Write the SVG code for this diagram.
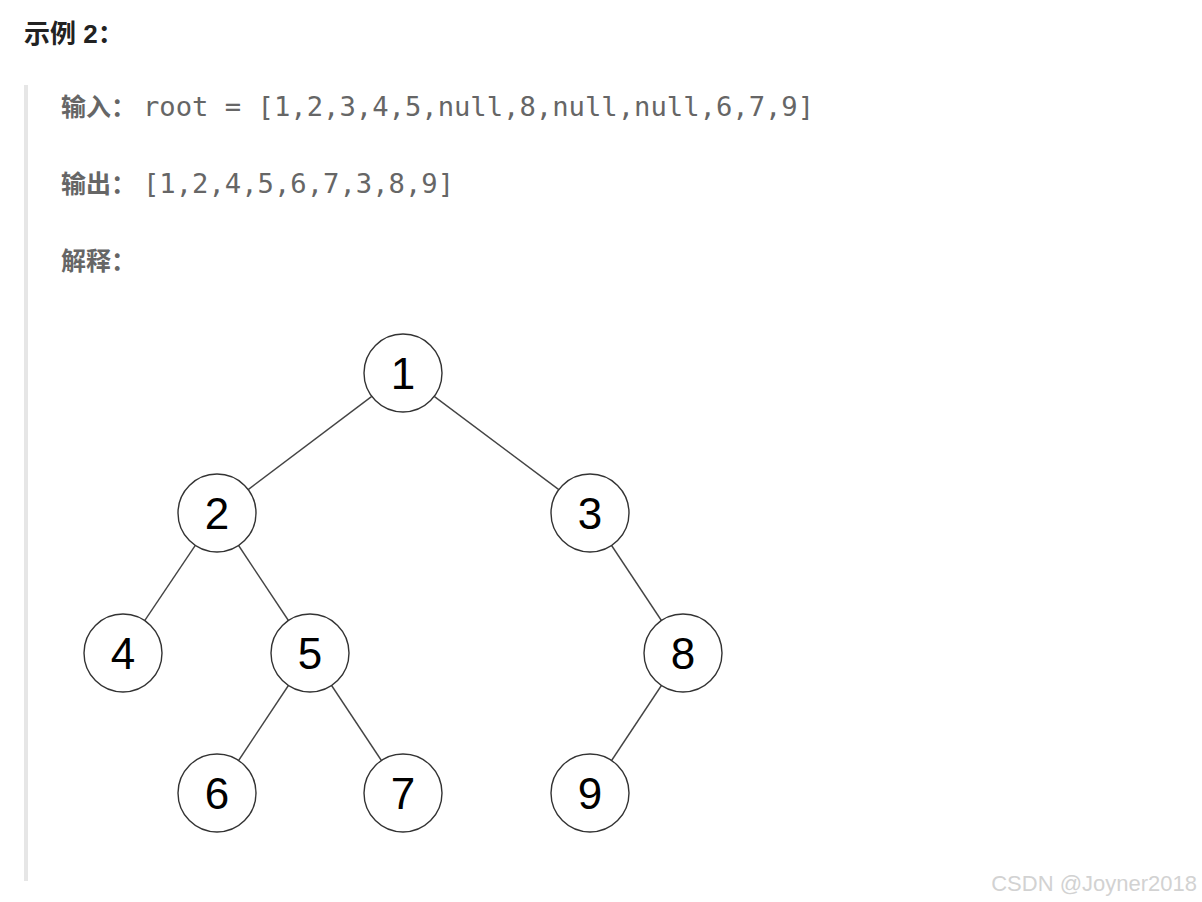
<svg xmlns="http://www.w3.org/2000/svg" width="1202" height="902" viewBox="0 0 1202 902">
<style>
.node circle{fill:#fff;stroke:#333;stroke-width:1.4}
.node text{font-family:"Liberation Sans",Arial,sans-serif;font-size:44px;fill:#000;text-anchor:middle}
.edges line{stroke:#444;stroke-width:1.4}
.lbl{font-family:"Noto Sans CJK SC",sans-serif;font-weight:bold;font-size:25px;fill:#666}
.mono{font-family:"DejaVu Sans Mono",monospace;font-size:27.2px;fill:#666}
</style>
<rect width="1202" height="902" fill="#fff"/>
<text x="24" y="43" font-family="'Liberation Sans','Noto Sans CJK SC',sans-serif" font-weight="bold" font-size="26" fill="#222">示例 2：</text>
<rect x="24" y="85" width="4" height="796" fill="#e6e6e6"/>
<text x="61" y="116" class="lbl">输入：</text>
<text x="143" y="116" class="mono">root = [1,2,3,4,5,null,8,null,null,6,7,9]</text>
<text x="61" y="193" class="lbl">输出：</text>
<text x="143" y="193" class="mono">[1,2,4,5,6,7,3,8,9]</text>
<text x="61" y="270" class="lbl">解释：</text>
<g id="connectors" class="edges">
<line x1="371.8" y1="396.4" x2="248.2" y2="489.6"/>
<line x1="434.2" y1="396.4" x2="558.8" y2="489.6"/>
<line x1="195.3" y1="545.4" x2="144.7" y2="620.6"/>
<line x1="238.6" y1="545.5" x2="288.4" y2="620.5"/>
<line x1="611.6" y1="545.5" x2="661.4" y2="620.5"/>
<line x1="288.4" y1="685.5" x2="238.6" y2="760.5"/>
<line x1="331.6" y1="685.5" x2="381.4" y2="760.5"/>
<line x1="661.4" y1="685.5" x2="611.6" y2="760.5"/>
</g>
<g id="n1" class="node"><circle cx="403" cy="373" r="39"/><text x="403" y="389">1</text></g>
<g id="n2" class="node"><circle cx="217" cy="513" r="39"/><text x="217" y="529">2</text></g>
<g id="n3" class="node"><circle cx="590" cy="513" r="39"/><text x="590" y="529">3</text></g>
<g id="n4" class="node"><circle cx="123" cy="653" r="39"/><text x="123" y="669">4</text></g>
<g id="n5" class="node"><circle cx="310" cy="653" r="39"/><text x="310" y="669">5</text></g>
<g id="n8" class="node"><circle cx="683" cy="653" r="39"/><text x="683" y="669">8</text></g>
<g id="n6" class="node"><circle cx="217" cy="793" r="39"/><text x="217" y="809">6</text></g>
<g id="n7" class="node"><circle cx="403" cy="793" r="39"/><text x="403" y="809">7</text></g>
<g id="n9" class="node"><circle cx="590" cy="793" r="39"/><text x="590" y="809">9</text></g>
<text x="1197" y="891" text-anchor="end" font-family="'Liberation Sans',Arial,sans-serif" font-size="22" fill="#d2d2d2">CSDN @Joyner2018</text>
</svg>
